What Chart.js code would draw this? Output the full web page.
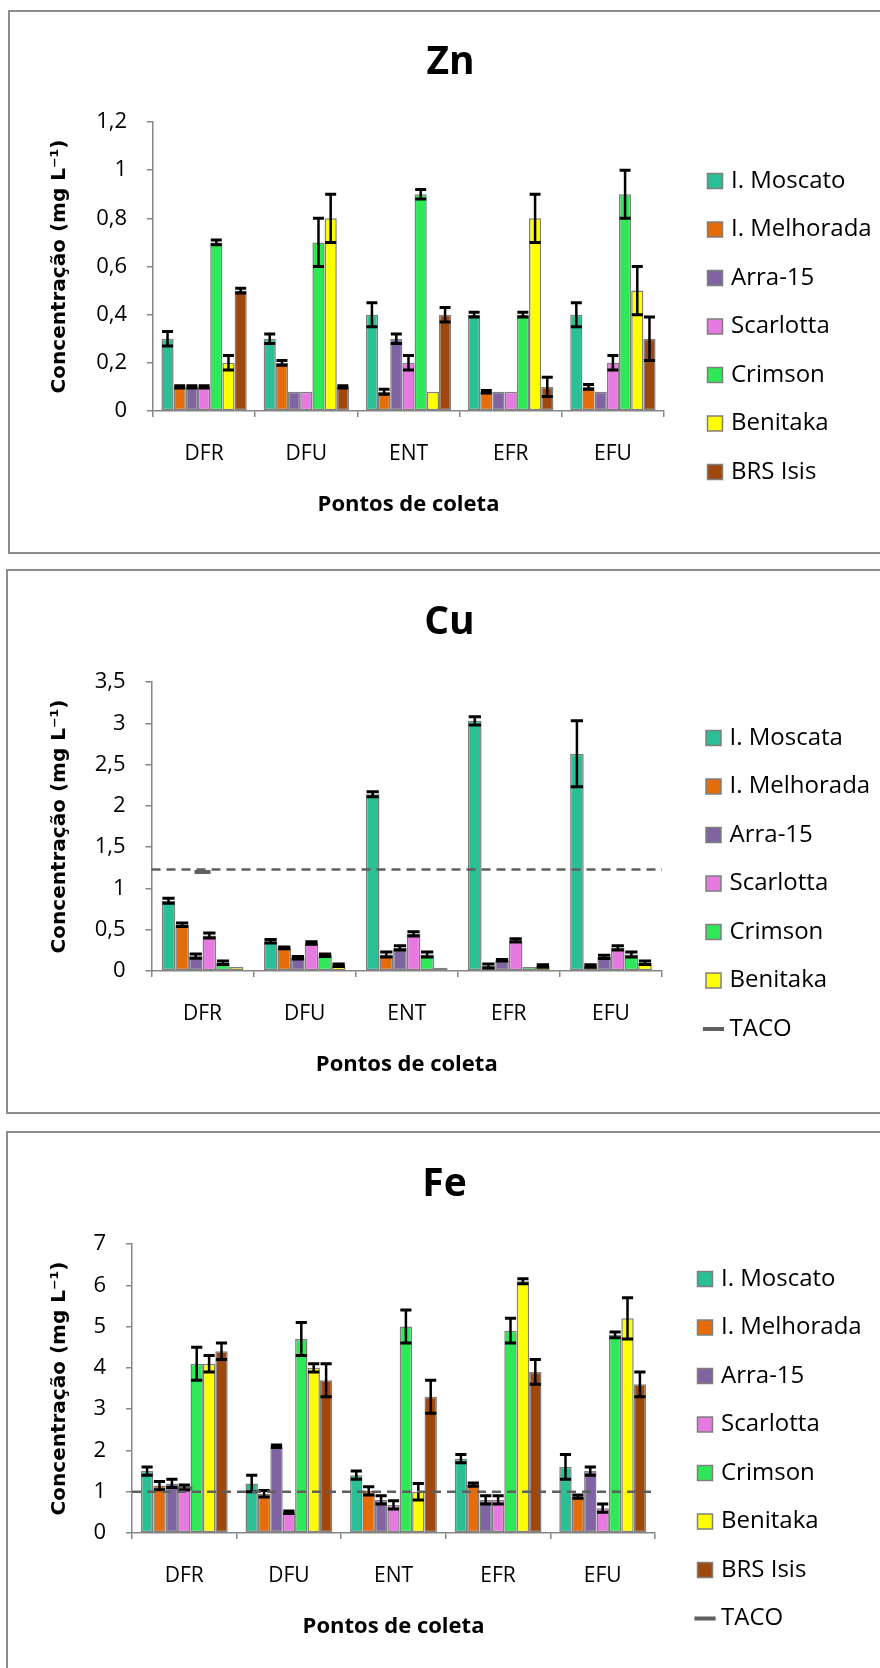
<!DOCTYPE html>
<html>
<head>
<meta charset="utf-8">
<script src="https://cdn.jsdelivr.net/npm/chart.js@4/dist/chart.umd.min.js"></script>
<style>
    html, body { margin: 0; padding: 0; background: #fff; overflow: hidden; width: 880px; height: 1668px; }
    .box { position: absolute; border: 2px solid #8c8c8c; box-sizing: border-box; width: 920px; }
    canvas { position: absolute; left: 0; }
</style>
</head>
<body>
<div class="box" style="left:8px; top:10px; height:544px"></div>
<div class="box" style="left:6px; top:569px; height:545px"></div>
<div class="box" style="left:6px; top:1131px; height:600px"></div>
<canvas id="zn" width="900" height="544" style="top:10px"></canvas>
<canvas id="cu" width="900" height="544" style="top:570px"></canvas>
<canvas id="fe" width="900" height="544" style="top:1132px"></canvas>
<script>
// 采样点
const categories = ['DFR', 'DFU', 'ENT', 'EFR', 'EFU'];

// Zn
const znMoscato = [0.3, 0.3, 0.4, 0.4, 0.4];
const znMoscatoErr = [0.03, 0.02, 0.05, 0.01, 0.05];
const znMelhorada = [0.1, 0.2, 0.08, 0.08, 0.1];
const znMelhoradaErr = [0.005, 0.01, 0.01, 0.005, 0.01];
const znArra = [0.1, 0.08, 0.3, 0.08, 0.08];
const znArraErr = [0.005, 0, 0.02, 0, 0];
const znScarlotta = [0.1, 0.08, 0.2, 0.08, 0.2];
const znScarlottaErr = [0.005, 0, 0.03, 0, 0.03];
const znCrimson = [0.7, 0.7, 0.9, 0.4, 0.9];
const znCrimsonErr = [0.01, 0.1, 0.02, 0.01, 0.1];
const znBenitaka = [0.2, 0.8, 0.08, 0.8, 0.5];
const znBenitakaErr = [0.03, 0.1, 0, 0.1, 0.1];
const znBrs = [0.5, 0.1, 0.4, 0.1, 0.3];
const znBrsErr = [0.01, 0.005, 0.03, 0.04, 0.09];

// Cu
const cuMoscata = [0.85, 0.36, 2.14, 3.03, 2.63];
const cuMoscataErr = [0.03, 0.02, 0.03, 0.05, 0.4];
const cuMelhorada = [0.56, 0.28, 0.2, 0.06, 0.06];
const cuMelhoradaErr = [0.02, 0.01, 0.03, 0.025, 0.015];
const cuArra = [0.18, 0.16, 0.28, 0.13, 0.17];
const cuArraErr = [0.025, 0.015, 0.025, 0.01, 0.02];
const cuScarlotta = [0.43, 0.34, 0.45, 0.37, 0.28];
const cuScarlottaErr = [0.03, 0.015, 0.025, 0.02, 0.025];
const cuCrimson = [0.1, 0.19, 0.2, 0.05, 0.2];
const cuCrimsonErr = [0.02, 0.015, 0.03, 0, 0.03];
const cuBenitaka = [0.05, 0.07, 0.04, 0.06, 0.1];
const cuBenitakaErr = [0, 0.015, 0, 0.015, 0.02];
const cuTaco = [1.2, null, null, null, null];
const cuTacoLimit = 1.23;

// Fe
const feMoscato = [1.5, 1.2, 1.4, 1.8, 1.6];
const feMoscatoErr = [0.1, 0.2, 0.1, 0.1, 0.3];
const feMelhorada = [1.15, 0.95, 1.02, 1.17, 0.88];
const feMelhoradaErr = [0.1, 0.08, 0.1, 0.04, 0.04];
const feArra = [1.2, 2.1, 0.8, 0.8, 1.5];
const feArraErr = [0.1, 0.03, 0.1, 0.1, 0.1];
const feScarlotta = [1.1, 0.5, 0.68, 0.8, 0.6];
const feScarlottaErr = [0.06, 0.03, 0.1, 0.1, 0.1];
const feCrimson = [4.1, 4.7, 5.0, 4.9, 4.8];
const feCrimsonErr = [0.4, 0.4, 0.4, 0.3, 0.07];
const feBenitaka = [4.1, 4.0, 1.0, 6.1, 5.2];
const feBenitakaErr = [0.2, 0.1, 0.2, 0.06, 0.5];
const feBrs = [4.4, 3.7, 3.3, 3.9, 3.6];
const feBrsErr = [0.2, 0.4, 0.4, 0.3, 0.3];
const feTaco = [1.08, null, null, null, null];
const feTacoLimit = 1.0;

// 颜色
const colMoscato = '#2ABF95';
const colMelhorada = '#E46C0A';
const colArra = '#8064A2';
const colScarlotta = '#E67AE0';
const colCrimson = '#2EE858';
const colBenitaka = '#FFFF00';
const colBrs = '#9E480E';
const barEdge = '#7f7f7f';
const axisGray = '#868686';
const tacoColor = '#606060';

const legendFont = "'Open Sans', sans-serif";
const legendSize = 24;
const legendPad = 24.5;
const legendBox = 8;
const canvasW = 900;
const yTitleX = 60;

Chart.defaults.font.family = "'Open Sans', sans-serif";
Chart.defaults.color = '#000';

// 误差线
const errorBarPlugin = {
    id: 'errorBars',
    afterDatasetsDraw(chart) {
        const ctx = chart.ctx;
        const yScale = chart.scales.y;
        chart.data.datasets.forEach((ds, i) => {
            if (!ds.errors) return;
            const meta = chart.getDatasetMeta(i);
            meta.data.forEach((bar, j) => {
                const e = ds.errors[j];
                if (!e) return;
                const v = ds.data[j];
                const top = yScale.getPixelForValue(v + e);
                const bot = yScale.getPixelForValue(v - e);
                const half = bar.width * 0.45;
                ctx.save();
                ctx.strokeStyle = '#000';
                ctx.lineWidth = 2.5;
                ctx.beginPath();
                ctx.moveTo(bar.x, top);
                ctx.lineTo(bar.x, bot);
                ctx.stroke();
                ctx.lineWidth = 3;
                ctx.beginPath();
                ctx.moveTo(bar.x - half, top);
                ctx.lineTo(bar.x + half, top);
                ctx.moveTo(bar.x - half, bot);
                ctx.lineTo(bar.x + half, bot);
                ctx.stroke();
                ctx.restore();
            });
        });
    }
};

// TACO 虚线
const tacoLinePlugin = {
    id: 'tacoLine',
    afterDatasetsDraw(chart, args, opts) {
        if (opts.value == null) return;
        const area = chart.chartArea;
        const y = chart.scales.y.getPixelForValue(opts.value);
        const ctx = chart.ctx;
        ctx.save();
        ctx.strokeStyle = '#5f5f5f';
        ctx.lineWidth = 2.5;
        ctx.setLineDash([9, 6]);
        ctx.beginPath();
        ctx.moveTo(area.left, y);
        ctx.lineTo(area.right, y);
        ctx.stroke();
        ctx.restore();
    }
};

function barSet(label, color, values, errors) {
    return {
        label: label,
        data: values,
        errors: errors,
        backgroundColor: color,
        borderColor: barEdge,
        borderWidth: 1.5,
        borderSkipped: false,
        pointStyle: 'rect'
    };
}

function tacoSet(values) {
    return {
        type: 'line',
        label: 'TACO',
        data: values,
        showLine: false,
        pointStyle: 'line',
        pointRadius: 8,
        pointHoverRadius: 8,
        pointBorderWidth: 4,
        pointBorderColor: tacoColor,
        pointBackgroundColor: tacoColor,
        borderColor: tacoColor,
        backgroundColor: tacoColor,
        order: -1
    };
}

function fmtTick(value) {
    return String(+value.toFixed(2)).replace('.', ',');
}

// 按图例文字宽度计算左右留白
function panelLayout(p) {
    const mctx = document.createElement('canvas').getContext('2d');
    mctx.font = legendSize + 'px ' + legendFont;
    const textW = Math.max(...p.datasets.map(d => mctx.measureText(d.label).width));
    const legendW = legendPad + legendBox + legendSize / 2 + textW + 10;
    const rightEdge = p.legendLeft + legendW;
    const padLeft = 2 * p.titleCenter - rightEdge;
    return {
        padLeft: padLeft,
        padRight: canvasW - rightEdge,
        yWidth: p.chartLeft - padLeft,
        rightGap: p.legendLeft - p.chartRight,
        yTitlePad: yTitleX - padLeft - 12
    };
}

function drawPanel(id, p) {
    const L = panelLayout(p);
    return new Chart(document.getElementById(id), {
        type: 'bar',
        data: { labels: categories, datasets: p.datasets },
        options: {
            responsive: false,
            animation: false,
            layout: { padding: { left: L.padLeft, right: L.padRight, top: 0, bottom: 0 } },
            datasets: { bar: { barPercentage: 1, categoryPercentage: p.catPct } },
            plugins: {
                title: {
                    display: true,
                    text: p.title,
                    color: '#000',
                    font: { family: "'Open Sans', sans-serif", weight: 'bold', size: 39, lineHeight: 1.2 },
                    padding: { top: 29, bottom: 36.2 }
                },
                legend: {
                    position: 'right',
                    align: 'start',
                    maxWidth: 500,
                    title: {
                        display: true,
                        text: '',
                        font: { size: 10, lineHeight: 1 },
                        padding: { top: p.legendTop - 10, bottom: 0 }
                    },
                    labels: {
                        usePointStyle: true,
                        boxWidth: legendBox,
                        boxHeight: 15,
                        padding: legendPad,
                        color: '#000',
                        font: { family: legendFont, size: legendSize },
                        sort: (a, b) => a.datasetIndex - b.datasetIndex,
                        generateLabels: chart => Chart.defaults.plugins.legend.labels.generateLabels(chart).map(l => {
                            l.pointStyle = chart.data.datasets[l.datasetIndex].type === 'line' ? 'line' : 'rect';
                            return l;
                        })
                    }
                },
                tooltip: { enabled: false },
                tacoLine: { value: p.tacoLimit }
            },
            scales: {
                x: {
                    ticks: { padding: 24, color: '#000', font: { size: 21 } },
                    grid: { drawOnChartArea: false, tickLength: 6, color: axisGray, lineWidth: 1.5, offset: true },
                    border: { color: axisGray, width: 1.5 },
                    title: {
                        display: true,
                        text: 'Pontos de coleta',
                        color: '#000',
                        font: { family: "'Open Sans', sans-serif", weight: 'bold', size: 22, lineHeight: 1.2 },
                        padding: { top: 0, bottom: 35.8 }
                    },
                    afterFit: s => { s.height = 143; }
                },
                y: {
                    min: 0,
                    max: p.yMax,
                    ticks: { stepSize: p.step, padding: 20, color: '#000', font: { size: 22 }, callback: fmtTick },
                    grid: { drawOnChartArea: false, tickLength: 6, color: axisGray, lineWidth: 1.5 },
                    border: { color: axisGray, width: 1.5 },
                    title: {
                        display: true,
                        text: 'Concentração (mg L⁻¹)',
                        color: '#000',
                        font: { family: "'DejaVu Sans', sans-serif", weight: 'bold', size: 20, lineHeight: 1.2 },
                        padding: { top: L.yTitlePad, bottom: 0 }
                    },
                    afterFit: s => { s.width = L.yWidth; }
                },
                yR: {
                    position: 'right',
                    display: true,
                    grid: { display: false },
                    border: { display: false },
                    ticks: { display: false },
                    afterFit: s => { s.width = L.rightGap; }
                }
            }
        },
        plugins: [errorBarPlugin, tacoLinePlugin]
    });
}

drawPanel('zn', {
    title: 'Zn',
    yMax: 1.2, step: 0.2,
    titleCenter: 450.5, chartLeft: 153, chartRight: 664, legendLeft: 686.5,
    legendTop: 134.5, catPct: 0.835,
    datasets: [
        barSet('I. Moscato', colMoscato, znMoscato, znMoscatoErr),
        barSet('I. Melhorada', colMelhorada, znMelhorada, znMelhoradaErr),
        barSet('Arra-15', colArra, znArra, znArraErr),
        barSet('Scarlotta', colScarlotta, znScarlotta, znScarlottaErr),
        barSet('Crimson', colCrimson, znCrimson, znCrimsonErr),
        barSet('Benitaka', colBenitaka, znBenitaka, znBenitakaErr),
        barSet('BRS Isis', colBrs, znBrs, znBrsErr)
    ]
});

drawPanel('cu', {
    title: 'Cu',
    yMax: 3.5, step: 0.5,
    titleCenter: 449.5, chartLeft: 151.5, chartRight: 662, legendLeft: 685,
    legendTop: 131.5, catPct: 0.80,
    tacoLimit: cuTacoLimit,
    datasets: [
        barSet('I. Moscata', colMoscato, cuMoscata, cuMoscataErr),
        barSet('I. Melhorada', colMelhorada, cuMelhorada, cuMelhoradaErr),
        barSet('Arra-15', colArra, cuArra, cuArraErr),
        barSet('Scarlotta', colScarlotta, cuScarlotta, cuScarlottaErr),
        barSet('Crimson', colCrimson, cuCrimson, cuCrimsonErr),
        barSet('Benitaka', colBenitaka, cuBenitaka, cuBenitakaErr),
        tacoSet(cuTaco)
    ]
});

drawPanel('fe', {
    title: 'Fe',
    yMax: 7, step: 1,
    titleCenter: 444.5, chartLeft: 132, chartRight: 655, legendLeft: 676.5,
    legendTop: 110.5, catPct: 0.83,
    tacoLimit: feTacoLimit,
    datasets: [
        barSet('I. Moscato', colMoscato, feMoscato, feMoscatoErr),
        barSet('I. Melhorada', colMelhorada, feMelhorada, feMelhoradaErr),
        barSet('Arra-15', colArra, feArra, feArraErr),
        barSet('Scarlotta', colScarlotta, feScarlotta, feScarlottaErr),
        barSet('Crimson', colCrimson, feCrimson, feCrimsonErr),
        barSet('Benitaka', colBenitaka, feBenitaka, feBenitakaErr),
        barSet('BRS Isis', colBrs, feBrs, feBrsErr),
        tacoSet(feTaco)
    ]
});
</script>
</body>
</html>
